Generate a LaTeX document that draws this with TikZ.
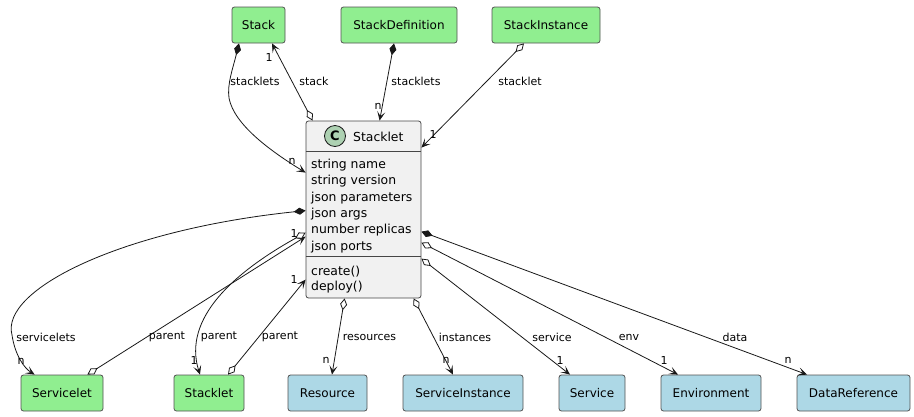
\documentclass[tikz,border=0pt]{standalone}
\usepackage{fontspec}
\setmainfont{DejaVu Sans}
\usetikzlibrary{arrows.meta,calc}
\definecolor{greenbox}{HTML}{90EE90}
\definecolor{bluebox}{HTML}{ADD8E6}
\definecolor{classbg}{HTML}{F1F1F1}
\definecolor{iconbg}{HTML}{ADD1B2}
\definecolor{linec}{HTML}{181818}
\begin{document}
\begin{tikzpicture}[x=1pt,y=-1pt,
  box/.style={draw=linec!75, rounded corners=2.5pt, line width=0.8pt, minimum height=36pt, inner sep=0pt, font=\fontsize{12}{14}\selectfont},
  gbox/.style={box, fill=greenbox},
  bbox/.style={box, fill=bluebox},
  lbl/.style={font=\fontsize{11}{13}\selectfont, inner sep=0pt},
  mtxt/.style={font=\fontsize{12.4}{14}\selectfont, inner sep=0pt, anchor=base west},
  edge/.style={draw=linec, line width=0.8pt},
  comp/.style={edge, {Diamond[length=12pt,width=7pt]}-{Stealth[length=9pt,width=8pt,inset=4.5pt]}},
  aggr/.style={edge, {Diamond[open,fill=white,length=12pt,width=7pt]}-{Stealth[length=9pt,width=8pt,inset=4.5pt]}},
]
\useasboundingbox (0,0) rectangle (914,416);
% top row
\node[gbox, minimum width=53pt] (stack) at (258.5,25) {Stack};
\node[gbox, minimum width=116pt] (sdef) at (399,25) {StackDefinition};
\node[gbox, minimum width=108pt] (sinst) at (546,25) {StackInstance};
% main class
\node[draw=linec!80, fill=classbg, rounded corners=2.5pt, line width=0.8pt, minimum width=115pt, minimum height=177pt, inner sep=0pt] (main) at (363.5,209.5) {};
\draw[draw=linec!80, line width=0.8pt] ($(main.north west)+(0,31)$) coordinate (d1) -- ($(main.north east)+(0,31)$) coordinate (d1e);
\draw[draw=linec!80, line width=0.8pt] ($(main.north west)+(0,136)$) coordinate (d2) -- ($(main.north east)+(0,136)$) coordinate (d2e);
\node[circle, draw=linec, fill=iconbg, line width=0.8pt, minimum size=21pt, inner sep=0pt, font=\fontsize{13}{14}\bfseries] (icon) at (335,136) {C};
\node[mtxt] (title) at (353,141) {Stacklet};
\node[mtxt] (a1) at (311,168.5) {string name};
\node[mtxt] (a2) at (311,184.8) {string version};
\node[mtxt] (a3) at (311,201.1) {json parameters};
\node[mtxt] (a4) at (311,217.4) {json args};
\node[mtxt] (a5) at (311,233.7) {number replicas};
\node[mtxt] (a6) at (311,250) {json ports};
\node[mtxt] (m1) at (311,275) {create()};
\node[mtxt] (m2) at (311,290.5) {deploy()};
% bottom row
\node[gbox, minimum width=82pt] (servicelet) at (62,393) {Servicelet};
\node[gbox, minimum width=70pt] (stacklet2) at (209,393) {Stacklet};
\node[bbox, minimum width=79pt] (resource) at (327.5,393) {Resource};
\node[bbox, minimum width=120pt] (sinstance) at (463,393) {ServiceInstance};
\node[bbox, minimum width=66pt] (service) at (592,393) {Service};
\node[bbox, minimum width=100pt] (environment) at (711,393) {Environment};
\node[bbox, minimum width=113pt] (dataref) at (853.5,393) {DataReference};
% top edges
\draw[comp] ($(stack.south)+(-19.5,0)$) .. controls (233,68) and (227,84) .. (229,98) .. controls (234,125) and (272,152) .. ($(main.north west)+(0,52)$);
\draw[aggr] ($(main.north west)+(7,0)$) -- ($(stack.south)+(13.5,0)$);
\draw[comp] ($(sdef.south)+(-5,0)$) -- ($(main.north west)+(74,0)$);
\draw[aggr] ($(sinst.south)+(-22,0)$) -- ($(main.north east)+(0,27)$);
% left/bottom edges
\draw[comp] ($(main.north west)+(0,90)$) .. controls (120,230) and (0,290) .. (12,335) .. controls (15,355) and (24,368) .. ($(servicelet.north west)+(14,0)$);
\draw[aggr] ($(servicelet.north east)+(-16,0)$) -- ($(main.north west)+(0,116)$);
\draw[aggr] ($(main.north west)+(0,112)$) .. controls (235,272) and (182,318) .. ($(stacklet2.north)+(-9,0)$);
\draw[aggr] ($(stacklet2.north)+(19,0)$) -- ($(main.north west)+(0,159)$);
\draw[aggr] ($(main.south west)+(39,0)$) -- ($(resource.north)+(4.5,0)$);
\draw[aggr] ($(main.south west)+(108,0)$) -- ($(sinstance.north)+(-10,0)$);
\draw[aggr] ($(main.north east)+(0,138)$) -- ($(service.north)+(-22,0)$);
\draw[aggr] ($(main.north east)+(0,122)$) -- ($(environment.north)+(-33,0)$);
\draw[comp] ($(main.north east)+(0,111)$) -- ($(dataref.north)+(-46.5,0)$);
% labels
\node[lbl] (l1) at (255,81) {stacklets};
\node[lbl] (l1n) at (292,161) {n};
\node[lbl] (l2) at (314,81) {stack};
\node[lbl] (l2n) at (269,57) {1};
\node[lbl] (l3) at (416,81) {stacklets};
\node[lbl] (l3n) at (378,106) {n};
\node[lbl] (l4) at (520,81) {stacklet};
\node[lbl] (l4n) at (433,134) {1};
\node[lbl] (l5) at (46,337) {servicelets};
\node[lbl] (l5n) at (21,361) {n};
\node[lbl] (l6) at (167,337) {parent};
\node[lbl] (l6n) at (294,233) {1};
\node[lbl] (l7) at (219,337) {parent};
\node[lbl] (l7n) at (194,360) {1};
\node[lbl] (l8) at (280,337) {parent};
\node[lbl] (l8n) at (294,279) {1};
\node[lbl] (l9) at (369.5,337) {resources};
\node[lbl] (l9n) at (326,360) {n};
\node[lbl] (l10) at (465,337) {instances};
\node[lbl] (l10n) at (446,360) {n};
\node[lbl] (l11) at (552,337) {service};
\node[lbl] (l11n) at (560,360) {1};
\node[lbl] (l12) at (629,337) {env};
\node[lbl] (l12n) at (664,360) {1};
\node[lbl] (l13) at (735,337) {data};
\node[lbl] (l13n) at (788,360) {n};
\end{tikzpicture}
\end{document}
